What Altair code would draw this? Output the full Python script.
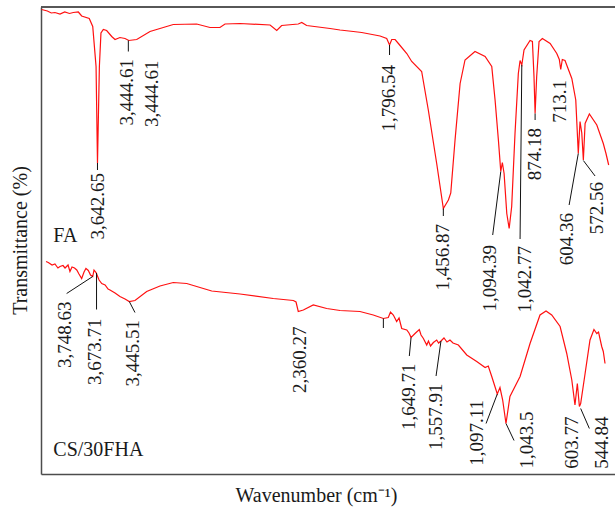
import altair as alt
import pandas as pd

# ---- FA spectrum (wavenumber cm-1, transmittance a.u.) ----
FA_WN = [3996, 3960, 3935, 3912, 3880, 3850, 3820, 3796, 3764, 3743, 3695, 3673, 3652, 3643, 3631,
         3621, 3606, 3585, 3553, 3532, 3501, 3469, 3445, 3395, 3311, 3164, 3016, 2932, 2869, 2837,
         2742, 2552, 2510, 2479, 2374, 2352, 2321, 2173, 2110, 2026, 1973, 1857, 1815, 1797, 1783,
         1762, 1741, 1688, 1657, 1594, 1552, 1499, 1457, 1425, 1410, 1383, 1351, 1320, 1257, 1193,
         1151, 1130, 1109, 1094, 1084, 1073, 1056, 1041, 1025, 1004, 983, 972, 961, 947, 909,
         894, 884, 877, 867, 852, 831, 782, 740, 724, 715, 705, 688, 645, 620, 604,
         593, 582, 572, 561, 534, 487, 446, 429, 412]
FA_T = [92.9, 92.6, 92.2, 92.3, 92.0, 92.4, 92.1, 92.3, 92.4, 91.6, 91.1, 89.5, 81.5, 62.2, 81.5,
        88.2, 88.9, 88.7, 87.5, 86.9, 87.3, 87.1, 86.7, 86.9, 88.5, 89.9, 90.0, 89.3, 89.3, 90.0,
        90.1, 89.8, 88.7, 89.7, 90.0, 90.3, 89.7, 89.1, 88.8, 88.5, 88.3, 87.6, 87.1, 85.8, 86.9,
        86.9, 86.1, 84.1, 82.5, 80.5, 72.8, 62.1, 53.1, 54.8, 56.2, 66.8, 78.1, 82.8, 84.5, 83.5,
        81.5, 74.8, 66.8, 60.5, 62.3, 60.1, 52.1, 49.1, 53.5, 68.1, 80.1, 82.7, 81.8, 84.8, 86.7,
        86.5, 79.5, 72.1, 79.5, 86.5, 87.1, 86.1, 84.1, 82.9, 80.9, 82.9, 82.7, 79.1, 74.8, 64.1,
        70.5, 68.2, 62.8, 70.1, 72.0, 69.8, 66.1, 64.1, 61.8]

# ---- CS/30FHA spectrum ----
CS_WN = [3968, 3954, 3930, 3912, 3893, 3880, 3861, 3848, 3829, 3817, 3804, 3788, 3774, 3760, 3743,
         3728, 3716, 3701, 3687, 3673, 3665, 3652, 3633, 3616, 3595, 3576, 3564, 3532, 3501, 3469,
         3442, 3406, 3332, 3248, 3164, 3079, 2974, 2921, 2742, 2532, 2405, 2388, 2374, 2342, 2279,
         2194, 2110, 2047, 1984, 1900, 1836, 1805, 1791, 1773, 1752, 1737, 1720, 1688, 1674, 1661,
         1636, 1609, 1598, 1583, 1562, 1551, 1538, 1520, 1499, 1487, 1472, 1453, 1434, 1415, 1396,
         1362, 1309, 1246, 1193, 1173, 1151, 1116, 1099, 1082, 1061, 1036, 972, 909, 846, 808,
         772, 719, 677, 645, 625, 610, 597, 589, 561, 530, 505, 487, 476, 456, 446, 435]
CS_T = [42.5, 42.3, 41.8, 42.0, 41.2, 41.5, 41.7, 41.2, 41.8, 40.5, 41.4, 41.2, 40.8, 40.0, 39.1,
        40.4, 41.1, 40.7, 39.8, 39.5, 40.8, 40.3, 38.8, 38.1, 37.8, 37.0, 36.8, 36.2, 35.5, 35.0,
        34.5, 34.7, 36.5, 37.6, 38.3, 38.1, 37.1, 36.6, 36.0, 35.1, 34.7, 34.4, 32.5, 32.8, 33.8,
        33.1, 32.7, 32.6, 32.5, 31.8, 31.1, 31.3, 32.4, 31.8, 30.5, 31.2, 29.1, 28.8, 28.2, 27.3,
        28.1, 28.9, 27.8, 27.1, 25.8, 26.6, 25.6, 26.3, 26.8, 26.2, 26.6, 27.2, 26.4, 26.8, 26.2,
        25.8, 23.8, 22.5, 21.3, 21.6, 19.5, 16.0, 17.3, 14.8, 10.1, 15.5, 19.5, 26.1, 31.8, 32.6,
        31.8, 29.5, 24.1, 18.8, 13.8, 18.1, 13.5, 14.1, 20.1, 26.8, 28.9, 28.1, 28.4, 25.5, 24.5, 22.1]

# ---- peak labels (text, centre wavenumber, top of text in transmittance units) ----
LABEL_TEXT = ["3,642.65", "3,444.61", "3,444.61", "1,796.54", "1,456.87", "1,094.39", "1,042.77",
              "874.18", "713.1", "604.36", "572.56",
              "3,748.63", "3,673.71", "3,445.51", "2,360.27", "1,649.71", "1,557.91", "1,097.11",
              "1,043.5", "603.77", "544.84"]
LABEL_WN = [3638, 3455, 3300, 1798, 1457, 1162, 941, 877, 719, 677, 487,
            3848, 3659, 3417, 2363, 1672, 1503, 1246, 930, 645, 456]
LABEL_TOP = [60.2, 83.0, 82.7, 81.8, 50.0, 45.8, 45.6, 69.2, 78.8, 52.2, 58.4,
             34.5, 31.1, 30.8, 29.5, 22.1, 18.1, 14.8, 12.5, 11.5, 11.5]

# ---- leader lines (from peak to label) ----
LEAD_WN1 = [3643, 3448, 1797, 1457, 1094, 961, 877, 604, 572,
            3673, 3649, 3442, 1836, 1661, 1472, 1116, 1061, 589]
LEAD_T1 = [62.2, 86.7, 85.8, 53.1, 60.5, 81.8, 72.1, 64.1, 62.7,
           39.5, 40.2, 34.5, 31.1, 27.3, 26.6, 16.0, 10.1, 13.1]
LEAD_WN2 = [3643, 3448, 1797, 1457, 1145, 972, 877, 662, 498,
            3838, 3649, 3406, 1836, 1672, 1503, 1187, 1010, 534]
LEAD_T2 = [60.8, 84.5, 83.8, 51.6, 47.8, 47.0, 70.8, 53.8, 59.6,
           36.1, 32.9, 32.3, 29.2, 23.6, 19.6, 10.1, 6.7, 9.1]

# ---- sample names ----
NAME_TEXT = ["FA", "CS/30FHA"]
NAME_WN = [3922, 3922]
NAME_T = [46.4, 3.6]

W, H = 574, 467
FONT = "Liberation Serif"
TXT = "#1a1a1a"

spec = pd.concat([
    pd.DataFrame({"wn": FA_WN, "t": FA_T, "s": "FA"}),
    pd.DataFrame({"wn": CS_WN, "t": CS_T, "s": "CS/30FHA"}),
])
labels = pd.DataFrame({"text": LABEL_TEXT, "wn": LABEL_WN, "t": LABEL_TOP})
leads = pd.DataFrame({"wn": LEAD_WN1, "t": LEAD_T1, "wn2": LEAD_WN2, "t2": LEAD_T2})
names = pd.DataFrame({"text": NAME_TEXT, "wn": NAME_WN, "t": NAME_T})

xscale = alt.Scale(domain=[4000, 372], nice=False, zero=False)
yscale = alt.Scale(domain=[0, 93.4], nice=False, zero=False)
xaxis = alt.Axis(title="Wavenumber (cm⁻¹)", labels=False, ticks=False, grid=False,
                 domainColor="#4d4d4d", domainWidth=1.5,
                 titleFont=FONT, titleFontSize=20, titleFontWeight="normal", titleColor=TXT,
                 titleX=275, titleY=21, titleAlign="center", titleBaseline="middle")
yaxis = alt.Axis(title="Transmittance (%)", labels=False, ticks=False, grid=False,
                 domainColor="#4d4d4d", domainWidth=1.5,
                 titleFont=FONT, titleFontSize=20, titleFontWeight="normal", titleColor=TXT,
                 titleAngle=270, titleX=-21, titleY=233, titleAlign="center",
                 titleBaseline="middle")

X = alt.X("wn:Q", scale=xscale, axis=xaxis)
Y = alt.Y("t:Q", scale=yscale, axis=yaxis)

lines = alt.Chart(spec).mark_line(strokeWidth=1.2, color="#ff1010").encode(
    x=X, y=Y, detail="s:N", order="wn:Q"
)
leaders = alt.Chart(leads).mark_rule(color="#111111", strokeWidth=1).encode(
    x=X, y=Y, x2="wn2:Q", y2="t2:Q"
)
peak_text = alt.Chart(labels).mark_text(
    angle=270, align="right", baseline="middle", font=FONT, fontSize=19, color=TXT
).encode(x=X, y=Y, text="text:N")
name_text = alt.Chart(names).mark_text(
    align="left", baseline="alphabetic", font=FONT, fontSize=20, color=TXT
).encode(x=X, y=Y, text="text:N")
top_border = alt.Chart(names).mark_rule(color="#4d4d4d", strokeWidth=1.5).encode(
    x=alt.value(0), x2=alt.value(W), y=alt.value(0)
)

chart = alt.layer(lines, leaders, peak_text, name_text, top_border).properties(
    width=W, height=H,
    padding={"left": 41, "top": 7, "right": 0, "bottom": 35},
    autosize="none", background="white",
).configure_view(stroke=None)

chart.save("out.html", embed_options={"renderer": "svg", "actions": False})
